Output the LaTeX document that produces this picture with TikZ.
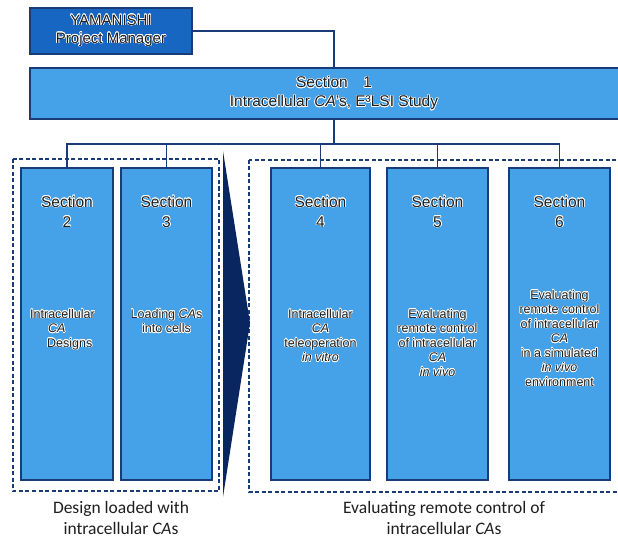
\documentclass[tikz,border=0pt]{standalone}
\usepackage{fontspec}
\setmainfont{Liberation Sans}
\newfontfamily\capfont{Carlito}
\usepackage[copies]{contour}
\contourlength{0.6pt}
\contournumber{16}
\definecolor{boxblue}{HTML}{45A1E8}
\definecolor{pmblue}{HTML}{1767C2}
\definecolor{navy}{HTML}{1B3A78}
\definecolor{arrownavy}{HTML}{0A2660}
\definecolor{textgray}{HTML}{1E1E1E}
\newcommand{\hl}[1]{\contour{white}{#1}}
\begin{document}
\begin{tikzpicture}[x=1pt,y=-1pt,
  sectbox/.style={rectangle, fill=boxblue, draw=navy, line width=1.8pt, minimum height=312pt},
  head/.style={align=center, inner sep=0pt, text=textgray, font=\fontsize{15.5}{20}\selectfont},
  body/.style={align=center, inner sep=0pt, anchor=north, text=textgray, font=\fontsize{12.5}{14.5}\selectfont},
  link/.style={draw=navy, line width=1.6pt},
  group/.style={draw=navy, line width=1.3pt, dash pattern=on 4pt off 2.5pt},
  caption/.style={align=center, inner sep=0pt, text=textgray, font=\capfont\fontsize{17.5}{21}\selectfont}]
\useasboundingbox (0,0) rectangle (618,537);
% dashed groups and the arrow between them
\draw[group] (13,159) rectangle (219,491);
\draw[group] (249,160) rectangle (640,492);
\fill[arrownavy] (223,151) -- (250,323) -- (223,497) -- cycle;
% top of the chart
\node [rectangle, fill=pmblue, draw=navy, line width=1.8pt, minimum width=162pt, minimum height=46pt] (pm) at (111,31) {};
\node [align=center, inner sep=0pt, text=textgray, font=\fontsize{15}{18}\selectfont] (pmt) at (111,31) {\hl{YAMANISHI}\\\hl{Project Manager}};
\node [rectangle, fill=boxblue, draw=navy, line width=1.8pt, minimum width=608pt, minimum height=51pt] (s1) at (334,93.5) {};
\node [align=center, inner sep=0pt, text=textgray, font=\fontsize{15.5}{19}\selectfont] (s1t) at (334,93.5) {\hl{Section\quad 1}\\\hl{Intracellular \textit{CA}'s, E³LSI Study}};
\draw[link] (pm.east) -| (s1.north);
\coordinate (bus) at (334,144);
\draw[link] (s1.south) -- (bus);
% sections
\node [sectbox, minimum width=92pt] (s2) at (67,324) {};
\node [sectbox, minimum width=91pt] (s3) at (166.5,324) {};
\node [sectbox, minimum width=99pt] (s4) at (320.5,324) {};
\node [sectbox, minimum width=101pt] (s5) at (437.5,324) {};
\node [sectbox, minimum width=101pt] (s6) at (559.5,324) {};
\draw[link] (bus) -| (s2.north);
\draw[link] (bus) -| (s3.north);
\draw[link] (bus) -| (s4.north);
\draw[link] (bus) -| (s5.north);
\draw[link] (bus) -| (s6.north);
\node [head] (s2h) at (67,212) {\hl{Section}\\\hl{2}};
\node [head] (s3h) at (166.5,212) {\hl{Section}\\\hl{3}};
\node [head] (s4h) at (320.5,212) {\hl{Section}\\\hl{4}};
\node [head] (s5h) at (437.5,212) {\hl{Section}\\\hl{5}};
\node [head] (s6h) at (559.5,212) {\hl{Section}\\\hl{6}};
\node [body, anchor=north west, align=left] (s2t) at (30,309) {\hl{Intracellular}\\\hspace*{18pt}\hl{\textit{CA}}\\\hspace*{17pt}\hl{Designs}};
\node [body] (s3t) at (166.5,309) {\hl{Loading \textit{CA}s}\\\hl{into cells}};
\node [body] (s4t) at (320.5,309) {\hl{Intracellular}\\\hl{\textit{CA}}\\\hl{teleoperation}\\\hl{\textit{in vitro}}};
\node [body] (s5t) at (437.5,309) {\hl{Evaluating}\\\hl{remote control}\\\hl{of intracellular}\\\hl{\textit{CA}}\\\hl{\textit{in vivo}}};
\node [body] (s6t) at (559.5,290) {\hl{Evaluating}\\\hl{remote control}\\\hl{of intracellular}\\\hl{\textit{CA}}\\\hl{in a simulated}\\\hl{\textit{in vivo}}\\\hl{environment}};
% captions under the groups
\node [caption] (capl) at (121,517.5) {Design loaded with\\intracellular \textit{CA}s};
\node [caption] (capr) at (444,517.5) {Evaluating remote control of\\intracellular \textit{CA}s};
\end{tikzpicture}
\end{document}
